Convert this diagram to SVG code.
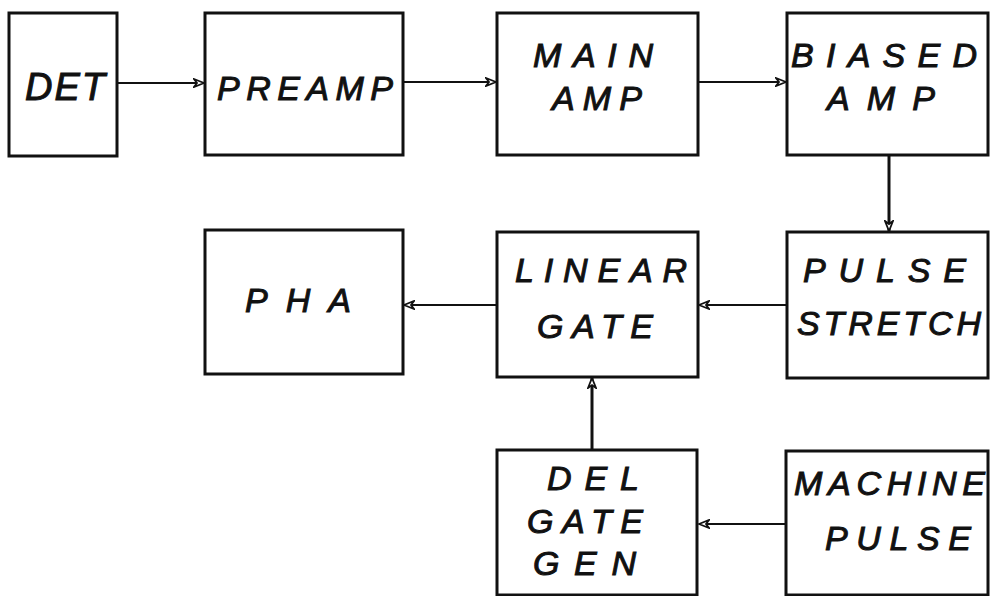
<svg xmlns="http://www.w3.org/2000/svg" width="991" height="596" viewBox="0 0 991 596">
<style>
.box{fill:#fff;stroke:#111;stroke-width:3}
.t{font-family:"Liberation Sans",Arial,sans-serif;font-style:italic;font-size:34px;fill:#111;stroke:#111;stroke-width:1}
.c{stroke:#111;stroke-width:2.2;fill:none}
.v{stroke:#111;stroke-width:3;fill:none}
</style>
<defs>
<marker id="ah" viewBox="0 0 12 10" refX="11" refY="5" markerWidth="12" markerHeight="10" markerUnits="userSpaceOnUse" orient="auto">
<path d="M1,1 L11,5 L1,9 L4,5 Z" fill="#fff" stroke="#111" stroke-width="1.8" stroke-linejoin="miter"/>
</marker>
</defs>
<rect width="991" height="596" fill="#fff"/>
<g id="connectors">
<line class="c" x1="117" y1="83" x2="204" y2="83" marker-end="url(#ah)"/>
<line class="c" x1="403" y1="82" x2="496" y2="82" marker-end="url(#ah)"/>
<line class="c" x1="698" y1="82" x2="786" y2="82" marker-end="url(#ah)"/>
<line class="v" x1="889" y1="156" x2="889" y2="231" marker-end="url(#ah)"/>
<line class="c" x1="787" y1="305" x2="699" y2="305" marker-end="url(#ah)"/>
<line class="c" x1="497" y1="305" x2="404" y2="305" marker-end="url(#ah)"/>
<line class="v" x1="592" y1="450" x2="592" y2="378" marker-end="url(#ah)"/>
<line class="c" x1="786" y1="524" x2="699" y2="524" marker-end="url(#ah)"/>
</g>
<g id="det"><rect class="box" x="9" y="13" width="108" height="143"/><text class="t" x="25" y="100" style="font-size:38px" textLength="80" lengthAdjust="spacing">DET</text></g>
<g id="preamp"><rect class="box" x="205" y="13" width="198" height="142"/><text class="t" x="217" y="100" textLength="176" lengthAdjust="spacing">PREAMP</text></g>
<g id="mainamp"><rect class="box" x="497" y="13" width="201" height="142"/><text class="t" x="533" y="67" textLength="120" lengthAdjust="spacing">MAIN</text><text class="t" x="552" y="110" textLength="90" lengthAdjust="spacing">AMP</text></g>
<g id="biasedamp"><rect class="box" x="787" y="13" width="201" height="142"/><text class="t" x="791" y="67" textLength="186" lengthAdjust="spacing">BIASED</text><text class="t" x="827" y="110" textLength="108" lengthAdjust="spacing">AMP</text></g>
<g id="pulsestretch"><rect class="box" x="787" y="232" width="201" height="146"/><text class="t" x="803" y="282" textLength="163" lengthAdjust="spacing">PULSE</text><text class="t" x="797" y="335" textLength="184" lengthAdjust="spacing">STRETCH</text></g>
<g id="lineargate"><rect class="box" x="497" y="232" width="201" height="145"/><text class="t" x="515" y="282" textLength="172" lengthAdjust="spacing">LINEAR</text><text class="t" x="537" y="338" textLength="116" lengthAdjust="spacing">GATE</text></g>
<g id="pha"><rect class="box" x="205" y="230" width="198" height="144"/><text class="t" x="245" y="312" textLength="106" lengthAdjust="spacing">PHA</text></g>
<g id="delgategen"><rect class="box" x="497" y="450" width="200" height="145"/><text class="t" x="547" y="490" textLength="92" lengthAdjust="spacing">DEL</text><text class="t" x="527" y="533" textLength="116" lengthAdjust="spacing">GATE</text><text class="t" x="533" y="575" textLength="103" lengthAdjust="spacing">GEN</text></g>
<g id="machinepulse"><rect class="box" x="786" y="451" width="202" height="144"/><text class="t" x="794" y="495" textLength="191" lengthAdjust="spacing">MACHINE</text><text class="t" x="825" y="550" textLength="146" lengthAdjust="spacing">PULSE</text></g>
</svg>
